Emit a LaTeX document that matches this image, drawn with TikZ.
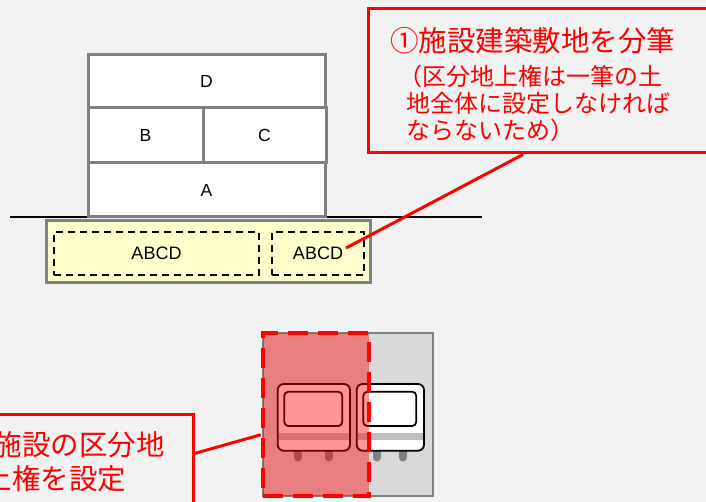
\documentclass[tikz,border=0pt]{standalone}
\usepackage{fontspec}
\setmainfont{Liberation Sans}
\newfontfamily\jpfont{Noto Sans CJK JP}
\usetikzlibrary{calc}

\definecolor{bg}{HTML}{F2F2F2}
\definecolor{edgegray}{HTML}{808080}
\definecolor{lotfill}{HTML}{FFFFCC}
\definecolor{stripegray}{HTML}{BFBFBF}
\definecolor{trackgray}{HTML}{D9D9D9}
\definecolor{wheelgray}{HTML}{808080}

% front view of a railcar: #1 = left edge, #2 = right edge
\newcommand\traincar[2]{%
  \draw[wheelgray, line width=8pt, line cap=round] (#1+20.5,446) -- (#1+20.5,457.5);
  \draw[wheelgray, line width=8pt, line cap=round] (#2-21.5,446) -- (#2-21.5,457.5);
  \fill[white, rounded corners=6pt] (#1,384) rectangle (#2,450.7);
  \fill[stripegray] (#1+1,433.3) rectangle (#2-1,440);
  \draw[black, line width=1.8pt, rounded corners=6pt] (#1,384) rectangle (#2,450.7);
  \draw[black, line width=1.8pt, rounded corners=4pt] (#1+6.6,391.7) rectangle (#2-7.8,426);
}

\begin{document}
\begin{tikzpicture}[x=1pt, y=-1pt,
  floor/.style={draw=edgegray, line width=3pt, fill=white, inner sep=0pt,
    font=\fontsize{17.5}{20}\selectfont},
  lot/.style={draw=edgegray, line width=3pt, fill=lotfill, inner sep=0pt},
  parcel/.style={draw=black, line width=1.6pt, dash pattern=on 7pt off 5pt,
    inner sep=0pt, font=\fontsize{18}{20}\selectfont},
  callout/.style={draw=red, line width=3pt, inner sep=0pt},
  leader/.style={draw=red, line width=3pt},
  bigjp/.style={text=red, inner sep=0pt, anchor=base west,
    font=\jpfont\fontsize{28.5}{30}\selectfont},
  smalljp/.style={text=red, inner sep=0pt, anchor=base west,
    font=\jpfont\fontsize{24}{26}\selectfont},
]
\useasboundingbox (0,0) rectangle (706,502);
\clip (0,0) rectangle (706,502);
\fill[bg] (0,0) rectangle (706,502);

% ground level
\coordinate (gl) at (10,217.5);
\coordinate (gr) at (482,217.5);
\draw[black, line width=2pt] (gl) -- (gr);

% building floors
\node[floor, minimum width=237pt, minimum height=53pt] (D) at (206.5,81.5) {D};
\node[floor, minimum width=115pt, minimum height=55pt] (B) at (145.5,135.5) {B};
\node[floor, minimum width=123pt, minimum height=55pt] (C) at (264.5,135.5) {C};
\node[floor, minimum width=237pt, minimum height=54pt] (A) at (206.5,190) {A};

% site below ground, split into two parcels
\node[lot, minimum width=324pt, minimum height=62pt] (lot) at (208,252) {};
\node[parcel, minimum width=205pt, minimum height=43pt] (P1) at (156.5,253.5) {ABCD};
\node[parcel, minimum width=92pt, minimum height=43pt] (P2) at (318,253.5) {ABCD};

% callout: splitting the site
\node[callout, minimum width=362pt, minimum height=144.5pt] (call1) at (549,80.75) {};
\node[bigjp] (t1) at (390,51.3) {①施設建築敷地を分筆};
\node[smalljp] (t2) at (398,86) {（区分地上権は一筆の土};
\node[smalljp] (t3) at (406.5,113) {地全体に設定しなければ};
\node[smalljp] (t4) at (406.5,139.5) {ならないため）};
\draw[leader] ($(call1.south)+(-26,0)$) -- ($(P2.center)+(28,-5.5)$);

% railway section with the protected zone
\node[draw=edgegray, line width=2pt, fill=trackgray, minimum width=170pt,
  minimum height=163pt, inner sep=0pt] (track) at (348,414.5) {};
\traincar{277.7}{350}
\traincar{356.7}{424}
\node[fill=red, fill opacity=0.41, draw=red, draw opacity=1, line width=4.5pt,
  dash pattern=on 20pt off 10pt, minimum width=106pt, minimum height=163pt,
  inner sep=0pt] (zone) at (316,414.5) {};

% callout: surface right over the facility
\node[callout, minimum width=203pt, minimum height=106pt] (call2) at (91.5,467) {};
\node[bigjp] (t5) at (-6.5,455.5) {施設の区分地};
\node[bigjp] (t6) at (-16.5,489) {上権を設定};
\draw[leader] ($(call2.north east)+(0,41)$) -- ($(zone.north west)+(0,104)$);
\end{tikzpicture}
\end{document}
